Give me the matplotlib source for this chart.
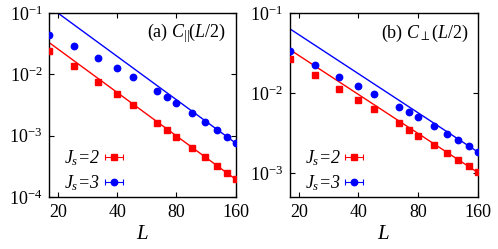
import numpy as np
from matplotlib import pyplot as plt

plt.rcParams['font.family'] = 'serif'
plt.rcParams['font.serif'] = ['Liberation Serif', 'DejaVu Serif']
plt.rcParams['mathtext.fontset'] = 'custom'
plt.rcParams['mathtext.rm'] = 'Liberation Serif'
plt.rcParams['mathtext.it'] = 'Liberation Serif:italic'
plt.rcParams['mathtext.bf'] = 'Liberation Serif:bold'

# system sizes
L = np.array([18, 24, 32, 40, 48, 64, 72, 80, 96, 112, 128, 144, 160])

# (a) C_par(L/2)
cpar_js2 = [0.0244, 0.0137, 0.0076, 0.00472, 0.00312, 0.00162, 0.00123,
            0.000957, 0.000641, 0.00045, 0.000325, 0.000246, 0.000194]
cpar_js3 = [0.0441, 0.0288, 0.0183, 0.0127, 0.00906, 0.0054, 0.00422,
            0.00344, 0.00233, 0.00168, 0.00126, 0.00097, 0.00076]
# (b) C_perp(L/2)
cperp_js2 = [0.0268, 0.0166, 0.0112, 0.0082, 0.00629, 0.00418, 0.00345,
             0.00293, 0.00225, 0.00177, 0.00144, 0.00121, 0.00102]
cperp_js3 = [0.0334, 0.0223, 0.016, 0.01225, 0.00975, 0.00671, 0.00573,
             0.00497, 0.00387, 0.0031, 0.00257, 0.00216, 0.00184]

# power-law fits A * L^-b
fit_par = {"js2": (29.4, 2.35), "js3": (112.0, 2.345)}
fit_perp = {"js2": (3.78, 1.62), "js3": (6.95, 1.623)}

xticks = [20, 40, 80, 160]

fig = plt.figure(figsize=(4.98, 2.49), dpi=100)
ax1 = fig.add_axes([0.099, 0.209, 0.374, 0.738])
ax2 = fig.add_axes([0.582, 0.209, 0.377, 0.738])


def panel(ax, d2, d3, fit, ylim, label):
    for data, key, color, marker, lab in [(d2, "js2", "red", "s", "2"),
                                          (d3, "js3", "blue", "o", "3")]:
        A, b = fit[key]
        ax.plot(L, A * L ** (-b), color=color, lw=1.0, zorder=2)
        ax.plot(L, data, ls="none", marker=marker, color=color, ms=4.6, zorder=3)
        # dummy errorbar for the legend sample
        ax.errorbar([np.nan], [np.nan], xerr=[1], fmt=marker, color=color,
                    ms=4.6, capsize=2.5, elinewidth=0.8, capthick=0.8,
                    label=r"$J_s$=" + lab)
    ax.set_xscale("log")
    ax.set_yscale("log")
    ax.set_xlim(18, 160)
    ax.set_ylim(*ylim)
    ax.set_xticks(xticks)
    ax.set_xticklabels([str(t) for t in xticks])
    ax.minorticks_off()
    ax.tick_params(direction="in", top=True, right=True, length=3.5,
                   labelsize=13, pad=5)
    ax.set_xlabel(r"$L$", fontsize=15, labelpad=3)
    for s in ax.spines.values():
        s.set_linewidth(1.0)
    ax.text(0.95, 0.89, label, transform=ax.transAxes, ha="right",
            va="center", fontsize=13)
    ax.legend(loc="lower left", bbox_to_anchor=(0.012, -0.045), frameon=False,
              markerfirst=False, prop={"style": "italic", "size": 13},
              handlelength=1.0, handletextpad=0.25, labelspacing=0.25,
              borderpad=0.2)


panel(ax1, cpar_js2, cpar_js3, fit_par, (1e-4, 1e-1),
      r"(a) $\mathit{C}_{||}\mathit{(L/2)}$")
panel(ax2, cperp_js2, cperp_js3, fit_perp, (5e-4, 1e-1),
      r"(b) $\mathit{C}_{\perp}\mathit{(L/2)}$")

fig.savefig("out.png", dpi=100)
